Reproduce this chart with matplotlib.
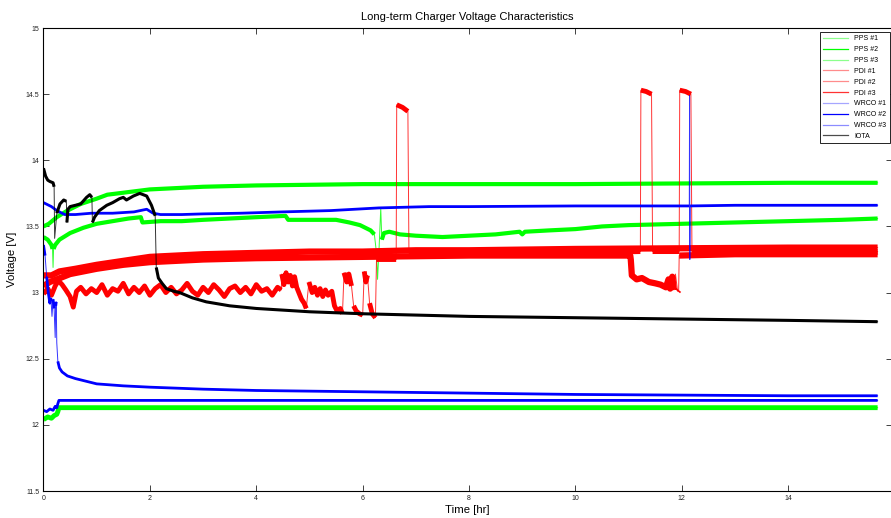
import matplotlib
matplotlib.use("Agg")
import matplotlib.pyplot as plt
import numpy as np
from matplotlib.ticker import FuncFormatter

plt.rcParams["font.family"] = ["Liberation Sans", "DejaVu Sans"]

# ---- data (time in hours, voltage in V) ----
pps1_t = [0.00, 0.10, 0.25, 0.45, 0.70, 1.00, 1.20, 1.60, 2.00, 2.50, 3.00, 4.00,
          5.00, 6.00, 8.00, 10.0, 12.0, 14.0, 15.68]
pps1_v = [13.50, 13.52, 13.57, 13.62, 13.67, 13.71, 13.74, 13.76, 13.78, 13.79, 13.80, 13.81,
          13.815, 13.82, 13.82, 13.82, 13.825, 13.83, 13.83]

pps2_t = [0.00, 0.08, 0.15, 0.17, 0.18, 0.19, 0.22, 0.30, 0.50, 0.75, 1.00, 1.30, 1.60,
          1.83, 1.86, 2.20, 2.60, 3.00, 3.50, 4.00, 4.55, 4.60, 5.00, 5.50, 5.75, 5.95,
          6.15, 6.22, 6.26, 6.28, 6.31, 6.34, 6.36, 6.40, 6.50, 6.70, 7.00, 7.50, 8.00,
          8.50, 8.95, 9.00, 9.05, 9.50, 10.0, 10.5, 11.0, 12.0, 13.0, 14.0, 15.0, 15.68]
pps2_v = [13.42, 13.40, 13.36, 13.33, 13.19, 13.33, 13.36, 13.40, 13.45, 13.49, 13.52, 13.54, 13.56,
          13.57, 13.53, 13.54, 13.54, 13.55, 13.56, 13.57, 13.58, 13.55, 13.55, 13.55, 13.53, 13.51,
          13.47, 13.44, 13.30, 13.10, 13.35, 13.64, 13.40, 13.45, 13.46, 13.44, 13.43, 13.42, 13.43,
          13.44, 13.46, 13.44, 13.46, 13.47, 13.48, 13.50, 13.51, 13.52, 13.53, 13.54, 13.55, 13.56]

pps3_t = [0.00, 0.08, 0.15, 0.20, 0.25, 0.27, 0.29, 1.0, 4.0, 8.0, 12.0, 15.68]
pps3_v = [12.04, 12.06, 12.05, 12.07, 12.08, 12.10, 12.13, 12.13, 12.13, 12.13, 12.13, 12.13]

pdi1_t = [0.00, 0.15, 0.30, 0.60, 1.00, 1.50, 2.00, 2.50, 3.00, 4.00, 5.00, 6.00,
          7.00, 8.00, 10.0, 12.0, 14.0, 15.68]
pdi1_v = [13.13, 13.13, 13.16, 13.18, 13.21, 13.24, 13.27, 13.28, 13.29, 13.30, 13.31, 13.31,
          13.32, 13.32, 13.33, 13.335, 13.34, 13.34]

pdi2_t = [0.00, 0.12, 0.25, 0.50, 1.00, 1.50, 2.00, 3.00, 4.00, 6.00, 8.00, 11.03, 11.04,
          11.06, 11.15, 11.25, 11.38, 11.50, 11.60, 11.70, 11.75, 11.78, 11.82, 11.85, 11.88,
          11.92, 11.94, 11.95, 13.0, 15.68]
pdi2_v = [13.05, 13.08, 13.10, 13.14, 13.18, 13.21, 13.23, 13.25, 13.26, 13.27, 13.28, 13.28, 13.25,
          13.13, 13.10, 13.11, 13.08, 13.07, 13.06, 13.04, 13.10, 13.03, 13.12, 13.02, 13.14,
          13.01, 13.02, 13.28, 13.29, 13.29]

pdi3_t = [0.00, 0.08, 0.15, 0.22, 0.28, 0.35, 0.42, 0.50, 0.56, 0.62, 0.70, 0.80, 0.90, 1.00,
          1.10, 1.20, 1.30, 1.40, 1.50, 1.60, 1.70, 1.80, 1.90, 2.00, 2.10, 2.20, 2.30, 2.40,
          2.50, 2.60, 2.70, 2.80, 2.90, 3.00, 3.10, 3.20, 3.30, 3.40, 3.50, 3.60, 3.70, 3.80,
          3.90, 4.00, 4.10, 4.20, 4.30, 4.40, 4.47,
          4.48, 4.52, 4.56, 4.60, 4.64, 4.68, 4.72, 4.76, 4.80, 4.85, 4.90, 4.94, 4.99, 5.05,
          5.10, 5.15, 5.20, 5.25, 5.30, 5.35, 5.42, 5.47, 5.52, 5.58, 5.62, 5.65, 5.70, 5.74,
          5.79, 5.83, 5.88, 5.94, 6.00, 6.03, 6.06, 6.09, 6.13, 6.18, 6.24, 6.26, 6.45, 6.63,
          6.64, 6.75, 6.85, 6.87, 8.00, 10.0, 11.22, 11.23, 11.33, 11.43, 11.45, 11.70, 11.95,
          11.96, 12.07, 12.17, 12.19, 14.0, 15.68]
pdi3_v = [12.99, 13.03, 12.98, 13.05, 13.09, 13.06, 13.02, 12.97, 12.89, 13.01, 13.04, 12.99, 13.03, 13.00,
          13.06, 12.98, 13.03, 13.01, 13.07, 12.99, 13.04, 13.00, 13.05, 12.98, 13.03, 13.06, 13.00, 13.04,
          12.99, 13.02, 13.07, 13.01, 12.98, 13.04, 13.00, 13.06, 13.02, 12.97, 13.03, 13.05, 13.00, 13.04,
          12.99, 13.06, 13.01, 13.03, 12.98, 13.04, 13.02,
          13.14, 13.06, 13.15, 13.08, 13.13, 13.05, 13.12, 13.04, 13.00, 12.95, 12.92, 12.88, 13.08, 13.00,
          13.04, 12.98, 13.03, 12.97, 13.02, 12.98, 13.01, 12.90, 12.86, 12.88, 12.84, 13.15, 13.08, 13.14,
          13.05, 12.90, 12.86, 12.84, 12.83, 13.16, 13.08, 13.13, 12.92, 12.84, 12.81, 13.25, 13.25, 13.25,
          14.42, 14.40, 14.37, 13.30, 13.30, 13.30, 13.31, 14.53, 14.52, 14.50, 13.31, 13.31, 13.31,
          14.53, 14.52, 14.50, 13.31, 13.31, 13.31]

wrco1_t = [0.00, 0.03, 0.06, 0.09, 0.12, 0.14, 0.16, 0.18, 0.20, 0.22, 0.23, 0.24, 0.25, 0.27,
           0.30, 0.35, 0.45, 0.60, 0.80, 1.00, 1.50, 2.00, 3.00, 4.00, 6.00, 8.00, 10.0, 12.0,
           14.0, 15.68]
wrco1_v = [13.36, 13.28, 13.12, 13.00, 12.92, 12.96, 12.82, 12.95, 12.88, 12.66, 12.90, 12.93, 12.62, 12.48,
           12.43, 12.40, 12.37, 12.35, 12.33, 12.31, 12.295, 12.285, 12.27, 12.26, 12.25, 12.24, 12.23, 12.225,
           12.22, 12.22]

wrco2_t = [0.00, 0.15, 0.25, 0.40, 0.60, 0.90, 1.30, 1.70, 1.94, 2.06, 2.20, 2.60, 3.00, 3.70,
           4.50, 5.40, 6.30, 7.25, 8.00, 10.0, 12.14, 12.145, 12.15, 12.155, 13.0, 15.68]
wrco2_v = [13.68, 13.65, 13.62, 13.59, 13.59, 13.60, 13.60, 13.61, 13.63, 13.60, 13.59, 13.59, 13.595, 13.60,
           13.61, 13.62, 13.64, 13.65, 13.65, 13.655, 13.655, 14.49, 13.25, 13.655, 13.66, 13.66]

wrco3_t = [0.00, 0.06, 0.12, 0.18, 0.22, 0.25, 0.27, 0.29, 1.0, 4.0, 8.0, 12.0, 15.68]
wrco3_v = [12.11, 12.10, 12.12, 12.11, 12.14, 12.13, 12.16, 12.185, 12.185, 12.185, 12.185, 12.185, 12.185]

iota_t = [0.00, 0.04, 0.08, 0.12, 0.18, 0.20, 0.21, 0.25, 0.31, 0.38, 0.43, 0.44, 0.46, 0.50,
          0.60, 0.70, 0.81, 0.87, 0.91, 0.92, 0.96, 1.05, 1.19, 1.30, 1.43, 1.50, 1.56, 1.69,
          1.81, 1.94, 2.03, 2.10, 2.12, 2.16, 2.23, 2.31, 2.45, 2.56, 2.80, 3.06, 3.50, 4.00,
          5.00, 6.00, 7.00, 8.00, 10.0, 12.0, 14.0, 15.68]
iota_v = [13.94, 13.88, 13.85, 13.84, 13.83, 13.80, 13.41, 13.60, 13.67, 13.70, 13.69, 13.53, 13.63, 13.65,
          13.66, 13.67, 13.72, 13.74, 13.72, 13.53, 13.57, 13.62, 13.66, 13.68, 13.71, 13.72, 13.70, 13.73,
          13.75, 13.73, 13.66, 13.58, 13.19, 13.11, 13.07, 13.03, 13.01, 13.00, 12.96, 12.93, 12.90, 12.88,
          12.855, 12.84, 12.83, 12.82, 12.81, 12.80, 12.79, 12.78]

# label, time, volts, colour, thick stroke width, legend line alpha
series = [
    ("PPS #1", pps1_t, pps1_v, "#00ff00", 3.0, 0.45),
    ("PPS #2", pps2_t, pps2_v, "#00ff00", 3.0, 1.0),
    ("PPS #3", pps3_t, pps3_v, "#00ff00", 3.5, 0.45),
    ("PDI #1", pdi1_t, pdi1_v, "#ff0000", 4.5, 0.45),
    ("PDI #2", pdi2_t, pdi2_v, "#ff0000", 4.5, 0.45),
    ("PDI #3", pdi3_t, pdi3_v, "#ff0000", 3.5, 0.8),
    ("WRCO #1", wrco1_t, wrco1_v, "#0000ff", 2.0, 0.35),
    ("WRCO #2", wrco2_t, wrco2_v, "#0000ff", 2.0, 1.0),
    ("WRCO #3", wrco3_t, wrco3_v, "#0000ff", 2.0, 0.45),
    ("IOTA", iota_t, iota_v, "black", 2.2, 0.7),
]

# steps bigger than this are drawn as thin transitions, like the raw trace
JUMP = 0.12


def steady_parts(t, v):
    """Break the series at big jumps so only the slowly varying parts get the thick stroke."""
    t = np.asarray(t, float)
    v = np.asarray(v, float)
    tt, vv = [t[0]], [v[0]]
    for i in range(1, len(t)):
        if abs(v[i] - v[i - 1]) > JUMP:
            tt.append(np.nan)
            vv.append(np.nan)
        tt.append(t[i])
        vv.append(v[i])
    return np.array(tt), np.array(vv)


fig = plt.figure(figsize=(8.91, 5.18), dpi=100)
ax = fig.add_axes([0.0488, 0.0521, 0.9523, 0.8938])

handles = []
for label, t, v, color, lw, _ in series:
    h, = ax.plot(t, v, color=color, lw=0.7, alpha=0.8, label=label)
    tt, vv = steady_parts(t, v)
    ax.plot(tt, vv, color=color, lw=lw, solid_capstyle="butt")
    handles.append(h)

ax.set_xlim(0, 15.95)
ax.set_ylim(11.5, 15)
ax.set_xticks(range(0, 15, 2))
ax.set_yticks([11.5, 12, 12.5, 13, 13.5, 14, 14.5, 15])
ax.yaxis.set_major_formatter(FuncFormatter(lambda y, _: f"{y:g}"))
ax.tick_params(direction="in", length=4, width=0.6, labelsize=5, colors="#222222",
               top=True, right=True, pad=3)
for sp in ax.spines.values():
    sp.set_linewidth(0.8)

ax.set_title("Long-term Charger Voltage Characteristics", fontsize=8, pad=6)
ax.set_xlabel("Time [hr]", fontsize=8.2, labelpad=2)
ax.set_ylabel("Voltage [V]", fontsize=8.2, labelpad=6)

leg = ax.legend(handles=handles, loc="upper right", bbox_to_anchor=(889.5 / 891, 1 - 32 / 518),
                bbox_transform=fig.transFigure, borderaxespad=0, fontsize=5,
                handlelength=3.6, labelspacing=0.55, fancybox=False, framealpha=1,
                edgecolor="black", borderpad=0.5)
leg.get_frame().set_linewidth(0.6)
for line, s in zip(leg.get_lines(), series):
    line.set_linewidth(0.9)
    line.set_alpha(s[5])

fig.savefig("out.png", dpi=100)
